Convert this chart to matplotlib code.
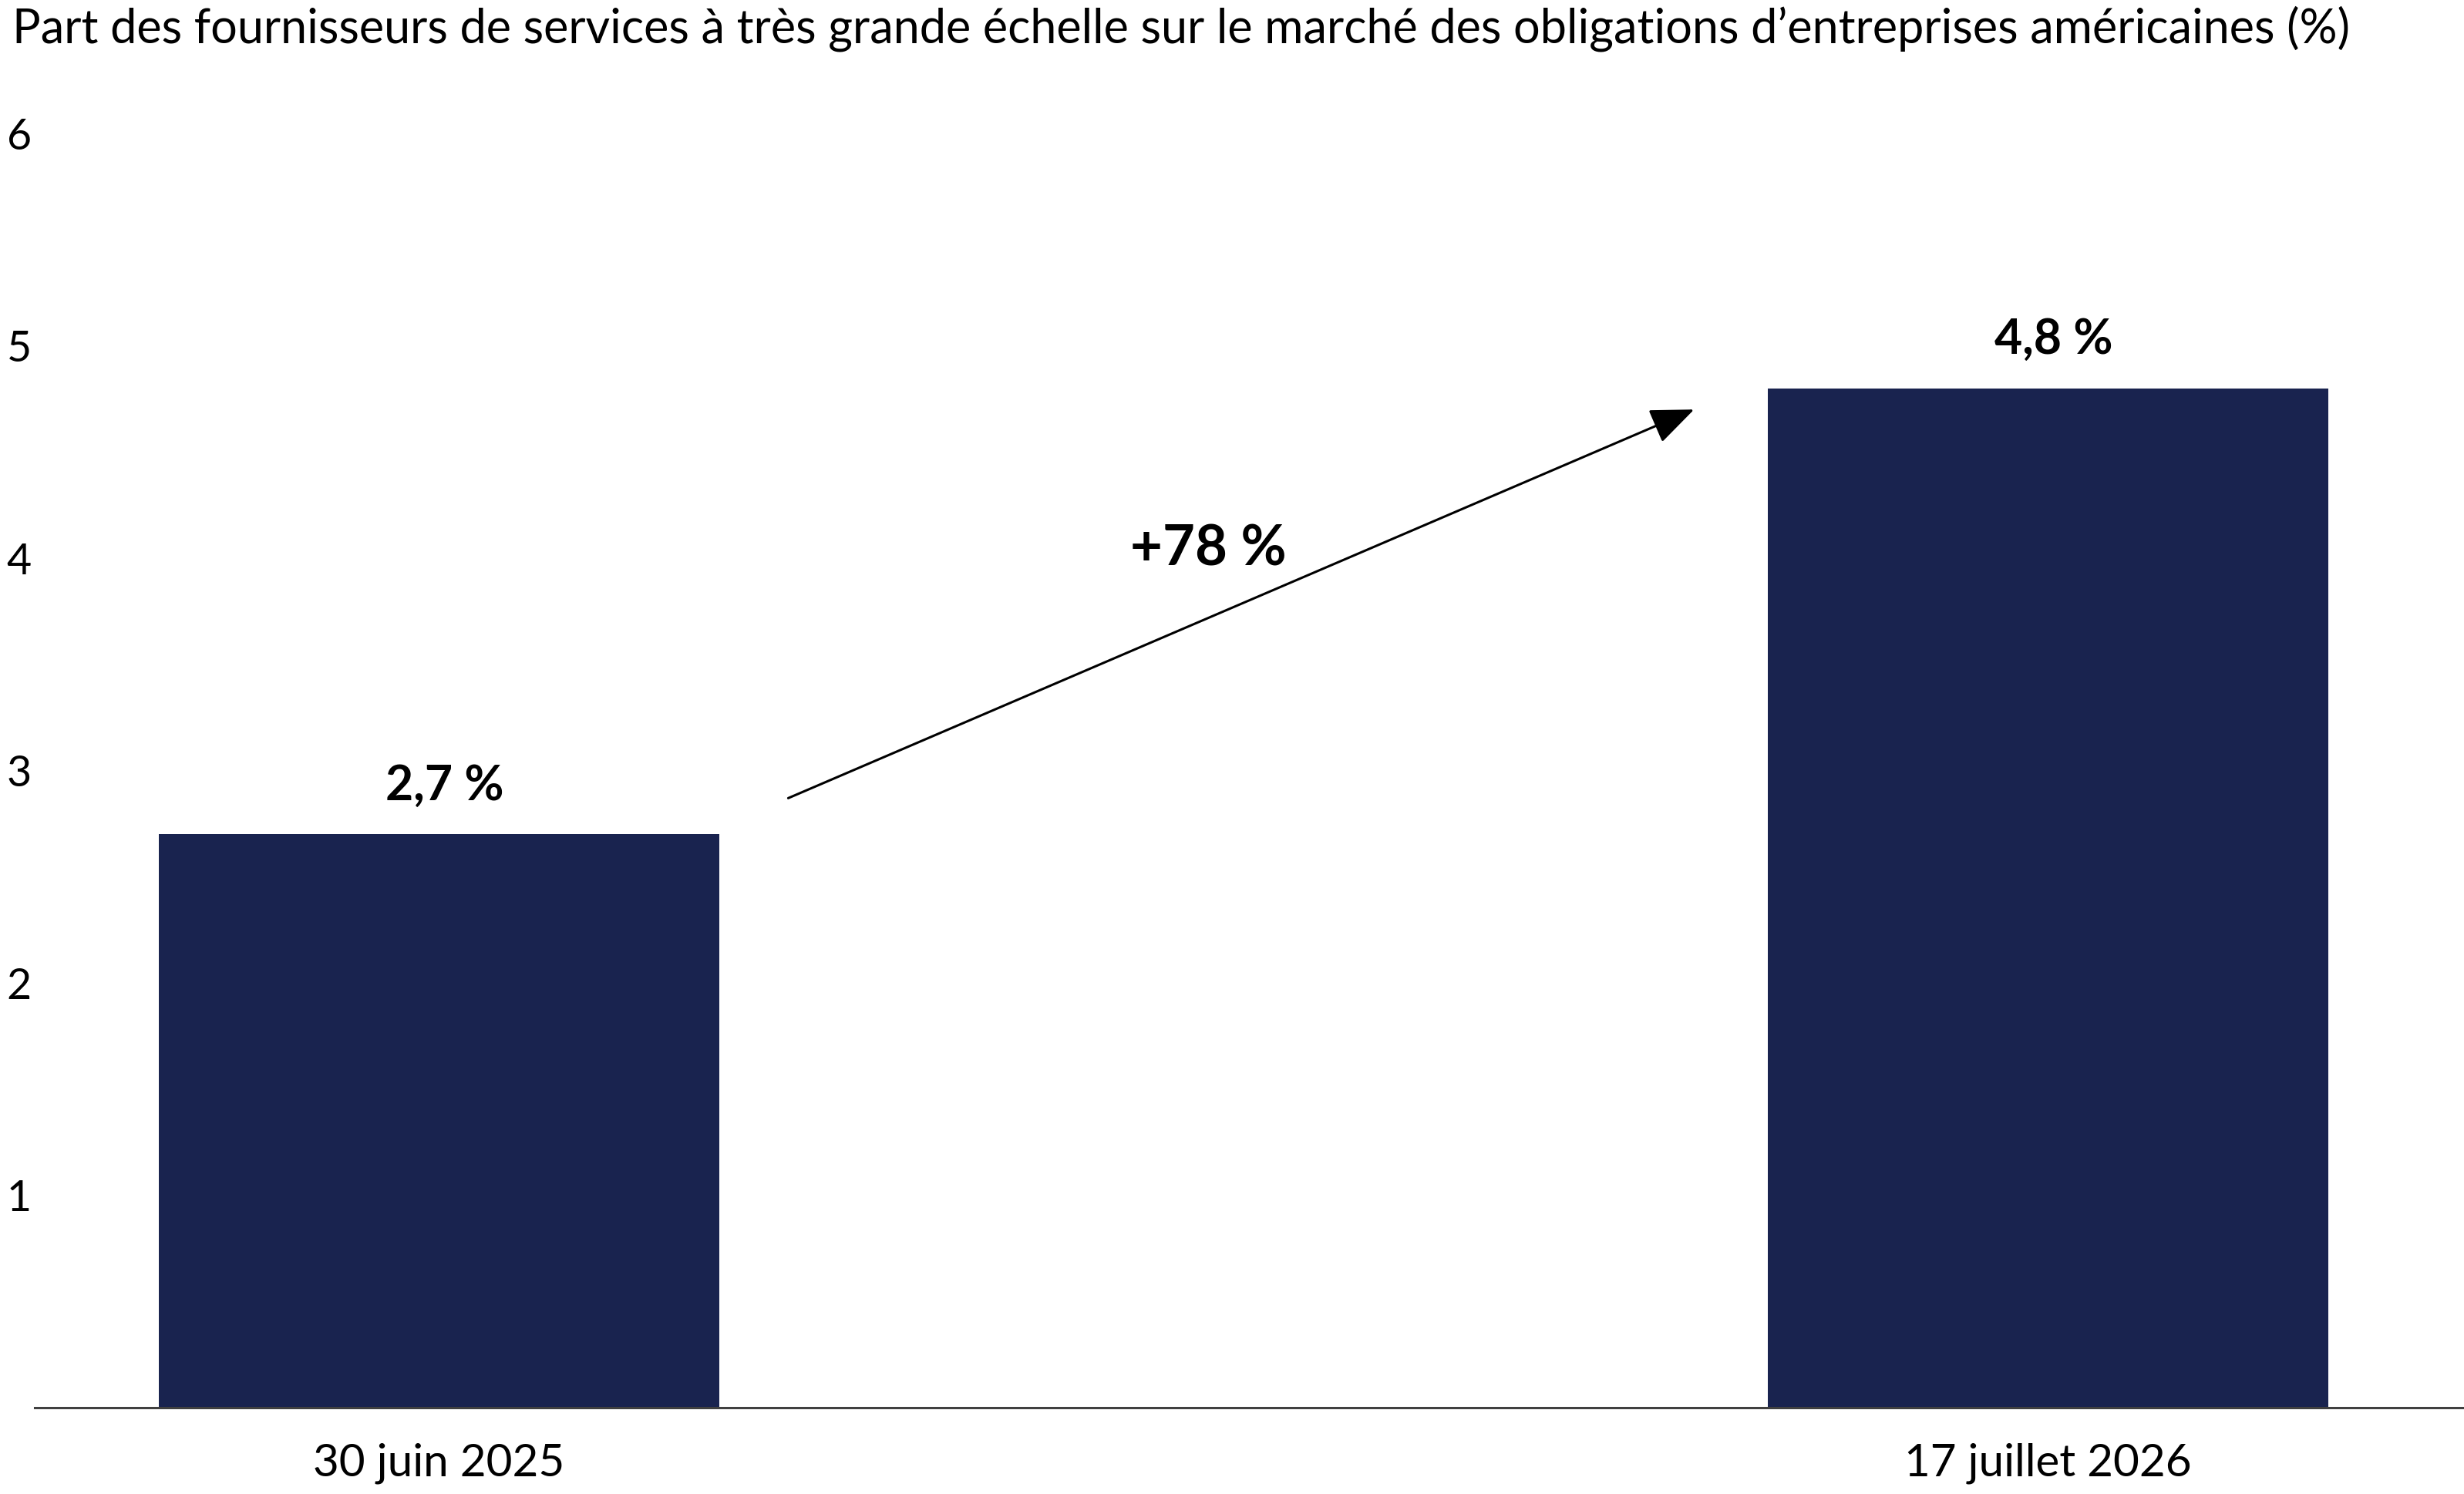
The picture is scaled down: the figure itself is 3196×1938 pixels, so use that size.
import matplotlib
matplotlib.use("Agg")
import matplotlib.pyplot as plt

plt.rcParams['font.family'] = ['Lato', 'DejaVu Sans']

# data
dates = ["30 juin 2025", "17 juillet 2026"]
shares = [2.7, 4.8]
value_labels = ["2,7 %", "4,8 %"]
change_label = "+78 %"
yticks = [1, 2, 3, 4, 5, 6]
title = "Part des fournisseurs de services à très grande échelle sur le marché des obligations d\u2019entreprises américaines (%)"

navy = "#19234F"

fig = plt.figure(figsize=(31.96, 19.38), dpi=100)
ax = fig.add_axes([0.0141, 0.0578, 0.9859, 0.8529])

x = list(range(len(shares)))
ax.bar(x, shares, width=0.348, color=navy)

ax.set_xlim(-0.2513, 1.2585)
ax.set_ylim(0, 6)

# value labels
for xi, v, lab in zip(x, shares, value_labels):
    ax.annotate(lab, (xi, v), xytext=(5, 24), textcoords="offset points",
                ha="center", va="bottom", fontsize=45, fontweight="bold")

# arrow between bars
ax.annotate("", xy=(x[1] - 0.22, shares[1] - 0.10), xytext=(x[0] + 0.217, shares[0] + 0.17),
            arrowprops=dict(arrowstyle="-|>,head_length=1.1,head_width=0.45", color="black", lw=2.2,
                            mutation_scale=32, shrinkA=0, shrinkB=0))
ax.text(0.478, 4.04, change_label, ha="center", va="center", fontsize=52, fontweight="bold")

ax.set_yticks(yticks)
ax.set_yticklabels([str(t) for t in yticks], fontsize=40)
ax.set_xticks(x)
ax.set_xticklabels(dates, fontsize=42)
ax.tick_params(axis="y", length=0, pad=3)
ax.tick_params(axis="x", length=0, pad=33)

for s in ["top", "right", "left"]:
    ax.spines[s].set_visible(False)
ax.spines["bottom"].set_color("#404040")
ax.spines["bottom"].set_linewidth(2.2)

fig.text(16 / 3196, 1 - 37 / 1938, title, ha="left", va="center", fontsize=44)

fig.savefig("out.png", dpi=100)
